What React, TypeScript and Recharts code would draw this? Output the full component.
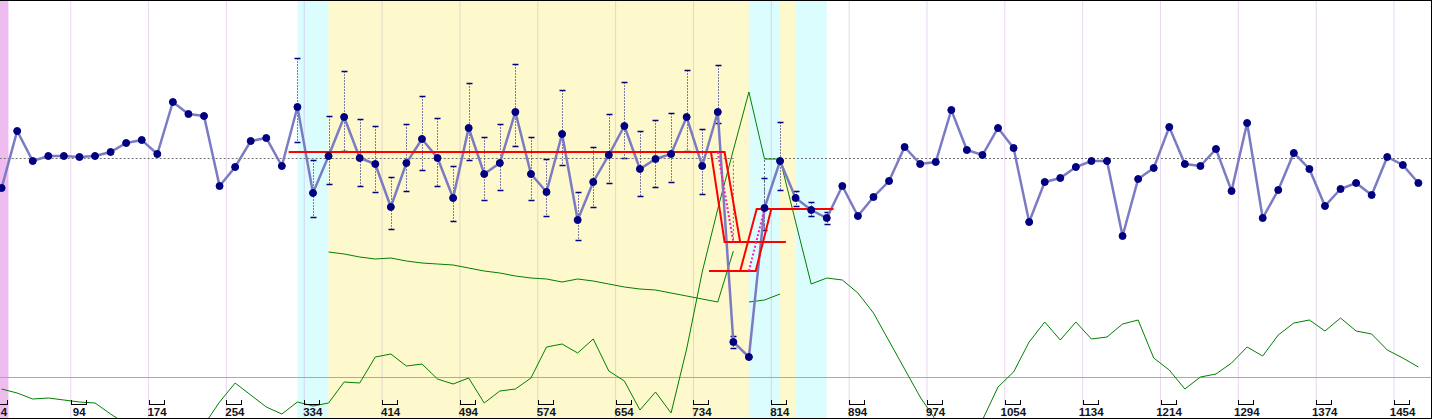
import { Bar, ComposedChart, Line, ReferenceArea, ReferenceLine, XAxis, YAxis } from 'recharts';

// day of each session (x) and the readings drawn on it
const days = [
  23, 39, 55, 71, 87, 103, 119, 135, 151, 167, 183, 199, 215, 231, 247, 263, 279, 295, 311, 327,
  343, 359, 375, 391, 407, 423, 439, 455, 471, 487, 503, 519, 535, 551, 567, 583, 599, 615, 631, 647,
  663, 679, 695, 711, 727, 743, 759, 775, 791, 807, 823, 839, 855, 871, 887, 903, 919, 935, 951, 967,
  983, 999, 1015, 1031, 1047, 1063, 1079, 1095, 1111, 1127, 1143, 1159, 1175, 1191, 1207, 1223, 1239, 1255, 1271, 1287,
  1303, 1319, 1335, 1351, 1367, 1383, 1399, 1415, 1431, 1447, 1463, 1479
];

const score = [
  231, 288, 258, 263, 263, 262, 263, 267, 276, 279,
  265, 317, 305, 303, 233, 252, 278, 281, 253, 312,
  226, 263, 302, 261, 255, 212, 256, 280, 261, 221,
  291, 245, 256, 307, 245, 227, 285, 199, 237, 264,
  293, 250, 260, 265, 302, 253, 307, 77, 62, 211,
  258, 221, 209, 201, 233, 203, 222, 238, 272, 255,
  257, 309, 269, 264, 291, 271, 197, 237, 241, 252,
  258, 258, 183, 240, 251, 292, 255, 253, 270, 228,
  296, 201, 229, 266, 250, 213, 230, 236, 224, 262,
  254, 236
];

// spread of each score, sessions 19..53
const errFrom = 19;
const errHigh = [361, 259, 303, 348, 300, 293, 242, 295, 323, 301, 253, 336, 282, 295, 355, 282, 260, 329, 227, 272, 305, 337, 288, 299, 306, 349, 290, 354, 83, null, 241, 297, 228, 217, 207];
const errLow = [277, 202, 235, 268, 233, 227, 190, 228, 249, 233, 198, 259, 219, 229, 273, 219, 203, 254, 179, 212, 236, 261, 223, 232, 237, 268, 225, 296, 71, null, 189, 229, 213, 203, 195];

const load = [
  30, 26, 20, 21, 19, 17, 16, 5, -5, -18,
  -26, -24, -14, -6, 17, 36, 24, 12, 5, 17,
  13, 16, 37, 36, 62, 65, 53, 55, 40, 35,
  41, 16, 28, 30, 41, 72, 75, 66, 80, 48,
  38, 9, 27, 6, 70, 147, 210, 269, 327, 260,
  260, 197, 135, 141, 139, 126, 106, 78, 50, 22,
  -1, -21, -26, -1, 32, 47, 77, 97, 79, 97,
  80, 82, 95, 99, 61, 49, 30, 42, 45, 56,
  72, 63, 84, 96, 99, 88, 101, 88, 85, 69,
  61, 52
];

const trendFrom = 21;
const trend = [167, 165, 162, 160, 161, 158, 156, 155, 154, 151, 148, 146, 143, 141, 140, 137, 140, 138, 135, 132, 130, 129, 126, 123, 120, 117, 168];
const trend2From = 48;
const trend2 = [117, 119, 125];

const baseline = 41.5;

// target tracks: [day, level]
const target1 = [[318, 267], [766, 267], [782, 177]];
const target2 = [[752, 267], [766, 177], [829, 177]];
const target3 = [[750, 148], [798, 148], [814, 210]];
const target4 = [[782, 148], [799, 210], [878, 210]];
const plan1 = [[759, 267], [775, 177]];
const plan2 = [[791, 148], [807, 210]];
const mean1 = [[21, 260.5], [775, 260.5], [775, 179]];
const mean2 = [[807, 189], [807, 260.5], [1493, 260.5]];

const phaseStart = [21, 327, 359, 791, 823, 839];
const phaseEnd = [30, 359, 791, 823, 839, 871];
const phaseKind = ['rest', 'taper', 'build', 'taper', 'build', 'taper'];

const xTicks = [4, 94, 174, 254, 334, 414, 494, 574, 654, 734, 814, 894, 974, 1054, 1134, 1214, 1294, 1374, 1454];

const phaseColors: Record<string, string> = { rest: '#efbcef', taper: '#dcfdfd', build: '#fdf9cc' };

const table = days.map((u, i) => {
  const e = i - errFrom;
  const hi = e >= 0 && e < errHigh.length ? errHigh[e] : null;
  const lo = e >= 0 && e < errLow.length ? errLow[e] : null;
  const t = i - trendFrom;
  const t2 = i - trend2From;
  return {
    u,
    score: score[i],
    load: load[i],
    trend: t >= 0 && t < trend.length ? trend[t] : null,
    trend2: t2 >= 0 && t2 < trend2.length ? trend2[t2] : null,
    err: hi != null && lo != null ? [lo, hi] : null
  };
});

const pts = (list: number[][]) => list.map(([u, v]) => ({ u, v }));

function DayTick(props: any) {
  const { x, y, payload } = props;
  const bx = Math.round(Math.max(x, -8));
  const by = Math.round(y) - 15;
  return (
    <g>
      <path
        d={`M${bx + 0.5},${by - 4}V${by + 1}M${bx},${by + 0.5}H${bx + 16}M${bx + 15.5},${by - 4}V${by + 1}`}
        stroke="#000"
        strokeWidth={1}
        fill="none"
      />
      <text
        x={Math.max(x + 8.5, 4)}
        y={y - 3}
        textAnchor="middle"
        style={{ fontSize: 11.5, fontWeight: 700, fontFamily: 'Arial, "Liberation Sans", sans-serif' }}
        fill="#14141c"
      >
        {payload.value}
      </text>
    </g>
  );
}

function SpreadShape(props: any) {
  const { x, y, width, height } = props;
  if (height == null || isNaN(height)) return null;
  const cx = Math.round(x + width / 2) + 0.5;
  const top = Math.round(y) + 0.5;
  const bottom = Math.round(y + height) + 0.5;
  return (
    <g>
      <line x1={cx} x2={cx} y1={top} y2={bottom} stroke="#000080" strokeWidth={1} strokeDasharray="1 2" />
      <line x1={cx - 3} x2={cx + 3} y1={top} y2={top} stroke="#000080" strokeWidth={1.5} />
      <line x1={cx - 3} x2={cx + 3} y1={bottom} y2={bottom} stroke="#000080" strokeWidth={1.5} />
    </g>
  );
}

export default function App() {
  return (
    <div
      style={{
        position: 'relative',
        width: 1432,
        height: 419,
        overflow: 'hidden',
        fontFamily: 'Arial, "Liberation Sans", sans-serif',
        background: '#fff'
      }}
    >
      <style>{'body{margin:0}'}</style>
      <ComposedChart width={1432} height={420} data={table} margin={{ top: 0, right: 0, bottom: 0, left: 0 }}>
        <XAxis
          dataKey="u"
          type="number"
          domain={[21.34, 1493]}
          allowDataOverflow
          ticks={xTicks}
          interval={0}
          height={1}
          tickSize={0}
          tickMargin={0}
          axisLine={false}
          tickLine={false}
          tick={<DayTick />}
        />
        <YAxis type="number" domain={[0, 419]} allowDataOverflow hide />
        {phaseStart.map((s, i) => (
          <ReferenceArea
            key={`p${i}`}
            x1={s}
            x2={phaseEnd[i]}
            fill={phaseColors[phaseKind[i]]}
            fillOpacity={1}
            stroke="none"
            ifOverflow="hidden"
          />
        ))}
        {xTicks.slice(1).map((t) => (
          <ReferenceLine key={`g${t}`} x={t} stroke="#c89ad8" strokeOpacity={0.4} strokeWidth={1} />
        ))}
        <ReferenceLine y={baseline} stroke="#f0a028" strokeWidth={1} />
        <Line data={pts(mean1)} dataKey="v" stroke="#707070" strokeWidth={1} strokeDasharray="2 2" dot={false} activeDot={false} isAnimationActive={false} />
        <Line data={pts(mean2)} dataKey="v" stroke="#707070" strokeWidth={1} strokeDasharray="2 2" dot={false} activeDot={false} isAnimationActive={false} />
        <Line dataKey="load" stroke="#008000" strokeWidth={1} dot={false} activeDot={false} isAnimationActive={false} />
        <Line dataKey="trend" stroke="#008000" strokeWidth={1} dot={false} activeDot={false} isAnimationActive={false} />
        <Line dataKey="trend2" stroke="#008000" strokeWidth={1} dot={false} activeDot={false} isAnimationActive={false} />
        <Bar dataKey="err" barSize={6} shape={<SpreadShape />} isAnimationActive={false} />
        <Line dataKey="score" stroke="#7b7bc4" strokeWidth={2.5} dot={false} activeDot={false} isAnimationActive={false} />
        <Line data={pts(target1)} dataKey="v" stroke="#ff0000" strokeWidth={2} dot={false} activeDot={false} isAnimationActive={false} />
        <Line data={pts(target2)} dataKey="v" stroke="#ff0000" strokeWidth={2} dot={false} activeDot={false} isAnimationActive={false} />
        <Line data={pts(target3)} dataKey="v" stroke="#ff0000" strokeWidth={2} dot={false} activeDot={false} isAnimationActive={false} />
        <Line data={pts(target4)} dataKey="v" stroke="#ff0000" strokeWidth={2} dot={false} activeDot={false} isAnimationActive={false} />
        <Line data={pts(plan1)} dataKey="v" stroke="#ff1ab8" strokeWidth={2} strokeDasharray="2 2" dot={false} activeDot={false} isAnimationActive={false} />
        <Line data={pts(plan2)} dataKey="v" stroke="#ff1ab8" strokeWidth={2} strokeDasharray="2 2" dot={false} activeDot={false} isAnimationActive={false} />
        <Line
          dataKey="score"
          stroke="none"
          dot={{ r: 3.5, fill: '#000080', stroke: '#000080', strokeWidth: 1 }}
          activeDot={false}
          isAnimationActive={false}
        />
      </ComposedChart>
      <div
        style={{
          position: 'absolute',
          inset: 0,
          borderTop: '1px solid #000',
          borderRight: '1px solid #000',
          borderBottom: '1px solid #000',
          pointerEvents: 'none'
        }}
      />
    </div>
  );
}
